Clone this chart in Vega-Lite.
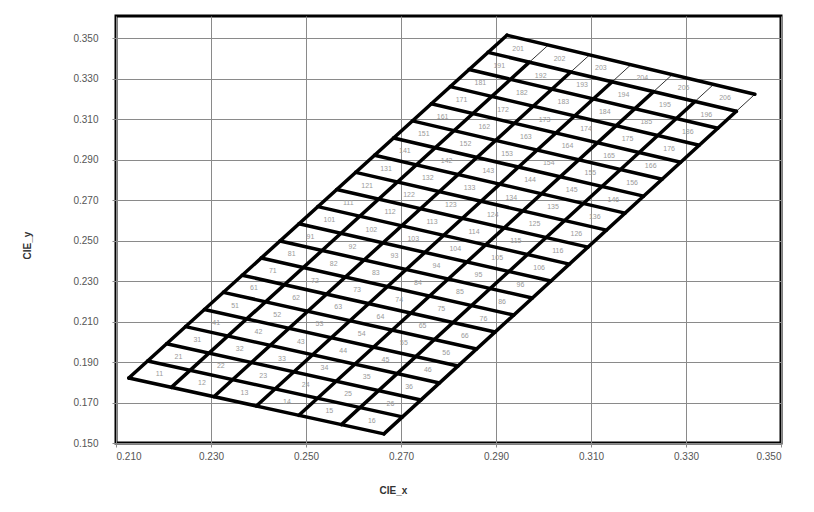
{
  "$schema": "https://vega.github.io/schema/vega-lite/v6.json",
  "width": 665,
  "height": 427,
  "autosize": {"type": "none"},
  "padding": {"left": 116, "top": 16, "right": 33, "bottom": 69},
  "background": "white",
  "config": {
    "view": {"stroke": "black", "strokeWidth": 3},
    "axis": {
      "gridColor": "#8a8a8a", "gridWidth": 1, "gridOpacity": 1,
      "domain": false, "tickColor": "#8a8a8a", "tickSize": 4,
      "labelFont": "Liberation Sans", "labelFontSize": 10, "labelColor": "#555555",
      "titleFont": "Liberation Sans", "titleFontSize": 10, "titleFontWeight": "bold", "titleColor": "#333333"
    }
  },
  "datasets": {
    "thick": [
      {"id":"h0","o":0,"x":0.2127,"y":0.1821},{"id":"h0","o":1,"x":0.2664,"y":0.1545},
      {"id":"h1","o":0,"x":0.21668,"y":0.19058},{"id":"h1","o":1,"x":0.2703,"y":0.1629},
      {"id":"h2","o":0,"x":0.22066,"y":0.19905},{"id":"h2","o":1,"x":0.27421,"y":0.17129},
      {"id":"h3","o":0,"x":0.22464,"y":0.20753},{"id":"h3","o":1,"x":0.27812,"y":0.17969},
      {"id":"h4","o":0,"x":0.22862,"y":0.216},{"id":"h4","o":1,"x":0.28202,"y":0.18808},
      {"id":"h5","o":0,"x":0.2326,"y":0.22448},{"id":"h5","o":1,"x":0.28593,"y":0.19648},
      {"id":"h6","o":0,"x":0.23658,"y":0.23295},{"id":"h6","o":1,"x":0.28983,"y":0.20487},
      {"id":"h7","o":0,"x":0.24056,"y":0.24143},{"id":"h7","o":1,"x":0.29374,"y":0.21327},
      {"id":"h8","o":0,"x":0.24454,"y":0.2499},{"id":"h8","o":1,"x":0.29764,"y":0.22166},
      {"id":"h9","o":0,"x":0.24852,"y":0.25838},{"id":"h9","o":1,"x":0.30155,"y":0.23006},
      {"id":"h10","o":0,"x":0.2525,"y":0.26685},{"id":"h10","o":1,"x":0.30545,"y":0.23845},
      {"id":"h11","o":0,"x":0.25648,"y":0.27533},{"id":"h11","o":1,"x":0.30936,"y":0.24685},
      {"id":"h12","o":0,"x":0.26046,"y":0.2838},{"id":"h12","o":1,"x":0.31326,"y":0.25524},
      {"id":"h13","o":0,"x":0.26444,"y":0.29228},{"id":"h13","o":1,"x":0.31717,"y":0.26364},
      {"id":"h14","o":0,"x":0.26842,"y":0.30075},{"id":"h14","o":1,"x":0.32107,"y":0.27203},
      {"id":"h15","o":0,"x":0.2724,"y":0.30923},{"id":"h15","o":1,"x":0.32498,"y":0.28043},
      {"id":"h16","o":0,"x":0.27638,"y":0.3177},{"id":"h16","o":1,"x":0.32888,"y":0.28882},
      {"id":"h17","o":0,"x":0.28036,"y":0.32618},{"id":"h17","o":1,"x":0.33279,"y":0.29722},
      {"id":"h18","o":0,"x":0.28434,"y":0.33465},{"id":"h18","o":1,"x":0.33669,"y":0.30561},
      {"id":"h19","o":0,"x":0.28832,"y":0.34313},{"id":"h19","o":1,"x":0.3406,"y":0.31401},
      {"id":"h20","o":0,"x":0.2923,"y":0.3516},{"id":"h20","o":1,"x":0.3445,"y":0.3224},
      {"id":"v0","o":0,"x":0.2127,"y":0.1821},{"id":"v0","o":1,"x":0.2923,"y":0.3516},
      {"id":"v1","o":0,"x":0.22165,"y":0.1775},{"id":"v1","o":1,"x":0.29703,"y":0.33828},
      {"id":"v2","o":0,"x":0.2306,"y":0.1729},{"id":"v2","o":1,"x":0.30574,"y":0.33342},
      {"id":"v3","o":0,"x":0.23955,"y":0.1683},{"id":"v3","o":1,"x":0.31446,"y":0.32857},
      {"id":"v4","o":0,"x":0.2485,"y":0.1637},{"id":"v4","o":1,"x":0.32317,"y":0.32372},
      {"id":"v5","o":0,"x":0.25745,"y":0.1591},{"id":"v5","o":1,"x":0.33189,"y":0.31886},
      {"id":"v6","o":0,"x":0.2664,"y":0.1545},{"id":"v6","o":1,"x":0.3406,"y":0.31401}
    ],
    "thin": [
      {"id":"t1","o":0,"x":0.29703,"y":0.33828},{"id":"t1","o":1,"x":0.301,"y":0.34673},
      {"id":"t2","o":0,"x":0.30574,"y":0.33342},{"id":"t2","o":1,"x":0.3097,"y":0.34187},
      {"id":"t3","o":0,"x":0.31446,"y":0.32857},{"id":"t3","o":1,"x":0.3184,"y":0.337},
      {"id":"t4","o":0,"x":0.32317,"y":0.32372},{"id":"t4","o":1,"x":0.3271,"y":0.33213},
      {"id":"t5","o":0,"x":0.33189,"y":0.31886},{"id":"t5","o":1,"x":0.3358,"y":0.32727},
      {"id":"t6","o":0,"x":0.3406,"y":0.31401},{"id":"t6","o":1,"x":0.3445,"y":0.3224}
    ],
    "cells": [
      {"x":0.21916,"y":0.18404,"t":"11"},{"x":0.2281,"y":0.17943,"t":"12"},{"x":0.23704,"y":0.17482,"t":"13"},{"x":0.24598,"y":0.17021,"t":"14"},{"x":0.25492,"y":0.1656,"t":"15"},{"x":0.26386,"y":0.16099,"t":"16"},
      {"x":0.22314,"y":0.19251,"t":"21"},{"x":0.23207,"y":0.18789,"t":"22"},{"x":0.241,"y":0.18327,"t":"23"},{"x":0.24993,"y":0.17865,"t":"24"},{"x":0.25886,"y":0.17403,"t":"25"},{"x":0.26779,"y":0.16941,"t":"26"},
      {"x":0.22711,"y":0.20098,"t":"31"},{"x":0.23603,"y":0.19635,"t":"32"},{"x":0.24495,"y":0.19172,"t":"33"},{"x":0.25387,"y":0.18709,"t":"34"},{"x":0.26279,"y":0.18246,"t":"35"},{"x":0.27171,"y":0.17783,"t":"36"},
      {"x":0.23109,"y":0.20945,"t":"41"},{"x":0.24,"y":0.2048,"t":"42"},{"x":0.24891,"y":0.20015,"t":"43"},{"x":0.25782,"y":0.1955,"t":"44"},{"x":0.26673,"y":0.19085,"t":"45"},{"x":0.27564,"y":0.1862,"t":"46"},
      {"x":0.23506,"y":0.21791,"t":"51"},{"x":0.24395,"y":0.21325,"t":"52"},{"x":0.25284,"y":0.20859,"t":"53"},{"x":0.26173,"y":0.20393,"t":"54"},{"x":0.27062,"y":0.19927,"t":"55"},{"x":0.27951,"y":0.19461,"t":"56"},
      {"x":0.23903,"y":0.22639,"t":"61"},{"x":0.24791,"y":0.22172,"t":"62"},{"x":0.25679,"y":0.21705,"t":"63"},{"x":0.26567,"y":0.21238,"t":"64"},{"x":0.27455,"y":0.20771,"t":"65"},{"x":0.28343,"y":0.20304,"t":"66"},
      {"x":0.24301,"y":0.23485,"t":"71"},{"x":0.25188,"y":0.23016,"t":"72"},{"x":0.26075,"y":0.22547,"t":"73"},{"x":0.26962,"y":0.22078,"t":"74"},{"x":0.27849,"y":0.21609,"t":"75"},{"x":0.28736,"y":0.2114,"t":"76"},
      {"x":0.24698,"y":0.24332,"t":"81"},{"x":0.25584,"y":0.23862,"t":"82"},{"x":0.2647,"y":0.23392,"t":"83"},{"x":0.27356,"y":0.22922,"t":"84"},{"x":0.28242,"y":0.22452,"t":"85"},{"x":0.29128,"y":0.21982,"t":"86"},
      {"x":0.25095,"y":0.25179,"t":"91"},{"x":0.25979,"y":0.24708,"t":"92"},{"x":0.26863,"y":0.24237,"t":"93"},{"x":0.27747,"y":0.23766,"t":"94"},{"x":0.28631,"y":0.23295,"t":"95"},{"x":0.29515,"y":0.22824,"t":"96"},
      {"x":0.25493,"y":0.26026,"t":"101"},{"x":0.26376,"y":0.25553,"t":"102"},{"x":0.27259,"y":0.2508,"t":"103"},{"x":0.28142,"y":0.24607,"t":"104"},{"x":0.29025,"y":0.24134,"t":"105"},{"x":0.29908,"y":0.23661,"t":"106"},
      {"x":0.2589,"y":0.26872,"t":"111"},{"x":0.26772,"y":0.26398,"t":"112"},{"x":0.27654,"y":0.25924,"t":"113"},{"x":0.28536,"y":0.2545,"t":"114"},{"x":0.29418,"y":0.24976,"t":"115"},{"x":0.303,"y":0.24502,"t":"116"},
      {"x":0.26288,"y":0.2772,"t":"121"},{"x":0.27169,"y":0.27245,"t":"122"},{"x":0.2805,"y":0.2677,"t":"123"},{"x":0.28931,"y":0.26295,"t":"124"},{"x":0.29812,"y":0.2582,"t":"125"},{"x":0.30693,"y":0.25345,"t":"126"},
      {"x":0.26685,"y":0.28566,"t":"131"},{"x":0.27564,"y":0.28089,"t":"132"},{"x":0.28443,"y":0.27612,"t":"133"},{"x":0.29322,"y":0.27135,"t":"134"},{"x":0.30201,"y":0.26658,"t":"135"},{"x":0.3108,"y":0.26181,"t":"136"},
      {"x":0.27082,"y":0.29413,"t":"141"},{"x":0.2796,"y":0.28935,"t":"142"},{"x":0.28838,"y":0.28457,"t":"143"},{"x":0.29716,"y":0.27979,"t":"144"},{"x":0.30594,"y":0.27501,"t":"145"},{"x":0.31472,"y":0.27023,"t":"146"},
      {"x":0.2748,"y":0.3026,"t":"151"},{"x":0.28357,"y":0.29781,"t":"152"},{"x":0.29234,"y":0.29302,"t":"153"},{"x":0.30111,"y":0.28823,"t":"154"},{"x":0.30988,"y":0.28344,"t":"155"},{"x":0.31865,"y":0.27865,"t":"156"},
      {"x":0.27877,"y":0.31107,"t":"161"},{"x":0.28753,"y":0.30626,"t":"162"},{"x":0.29629,"y":0.30145,"t":"163"},{"x":0.30505,"y":0.29664,"t":"164"},{"x":0.31381,"y":0.29183,"t":"165"},{"x":0.32257,"y":0.28702,"t":"166"},
      {"x":0.28274,"y":0.31953,"t":"171"},{"x":0.29148,"y":0.31471,"t":"172"},{"x":0.30022,"y":0.30989,"t":"173"},{"x":0.30896,"y":0.30507,"t":"174"},{"x":0.3177,"y":0.30025,"t":"175"},{"x":0.32644,"y":0.29543,"t":"176"},
      {"x":0.28672,"y":0.32801,"t":"181"},{"x":0.29545,"y":0.32318,"t":"182"},{"x":0.30418,"y":0.31835,"t":"183"},{"x":0.31291,"y":0.31352,"t":"184"},{"x":0.32164,"y":0.30869,"t":"185"},{"x":0.33037,"y":0.30386,"t":"186"},
      {"x":0.29069,"y":0.33647,"t":"191"},{"x":0.29941,"y":0.33162,"t":"192"},{"x":0.30813,"y":0.32677,"t":"193"},{"x":0.31685,"y":0.32192,"t":"194"},{"x":0.32557,"y":0.31707,"t":"195"},{"x":0.33429,"y":0.31222,"t":"196"},
      {"x":0.29467,"y":0.34494,"t":"201"},{"x":0.30338,"y":0.34008,"t":"202"},{"x":0.31209,"y":0.33522,"t":"203"},{"x":0.3208,"y":0.33036,"t":"204"},{"x":0.32951,"y":0.3255,"t":"205"},{"x":0.33822,"y":0.32064,"t":"206"}
    ]
  },
  "layer": [
    {
      "data": {"name": "cells"},
      "mark": {"type": "text", "fontSize": 7, "color": "#9a9a9a", "font": "Liberation Sans"},
      "encoding": {
        "x": {"field": "x", "type": "quantitative",
              "scale": {"domain": [0.21, 0.35], "nice": false, "zero": false},
              "axis": {"title": "CIE_x", "values": [0.21,0.23,0.25,0.27,0.29,0.31,0.33,0.35], "format": ".3f",
                       "labelPadding": 4, "titleX": 277, "titleY": 42, "titleAnchor": "middle"}},
        "y": {"field": "y", "type": "quantitative",
              "scale": {"domain": [0.15, 0.3611], "nice": false, "zero": false},
              "axis": {"title": "CIE_y", "values": [0.15,0.17,0.19,0.21,0.23,0.25,0.27,0.29,0.31,0.33,0.35], "format": ".3f",
                       "labelPadding": 14, "titleX": -84, "titleY": 229}},
        "text": {"field": "t"}
      }
    },
    {
      "data": {"name": "thin"},
      "mark": {"type": "line", "color": "#333333", "strokeWidth": 1},
      "encoding": {
        "x": {"field": "x", "type": "quantitative"},
        "y": {"field": "y", "type": "quantitative"},
        "detail": {"field": "id"},
        "order": {"field": "o"}
      }
    },
    {
      "data": {"name": "thick"},
      "mark": {"type": "line", "color": "black", "strokeWidth": 3.5, "strokeCap": "round"},
      "encoding": {
        "x": {"field": "x", "type": "quantitative"},
        "y": {"field": "y", "type": "quantitative"},
        "detail": {"field": "id"},
        "order": {"field": "o"}
      }
    }
  ]
}
